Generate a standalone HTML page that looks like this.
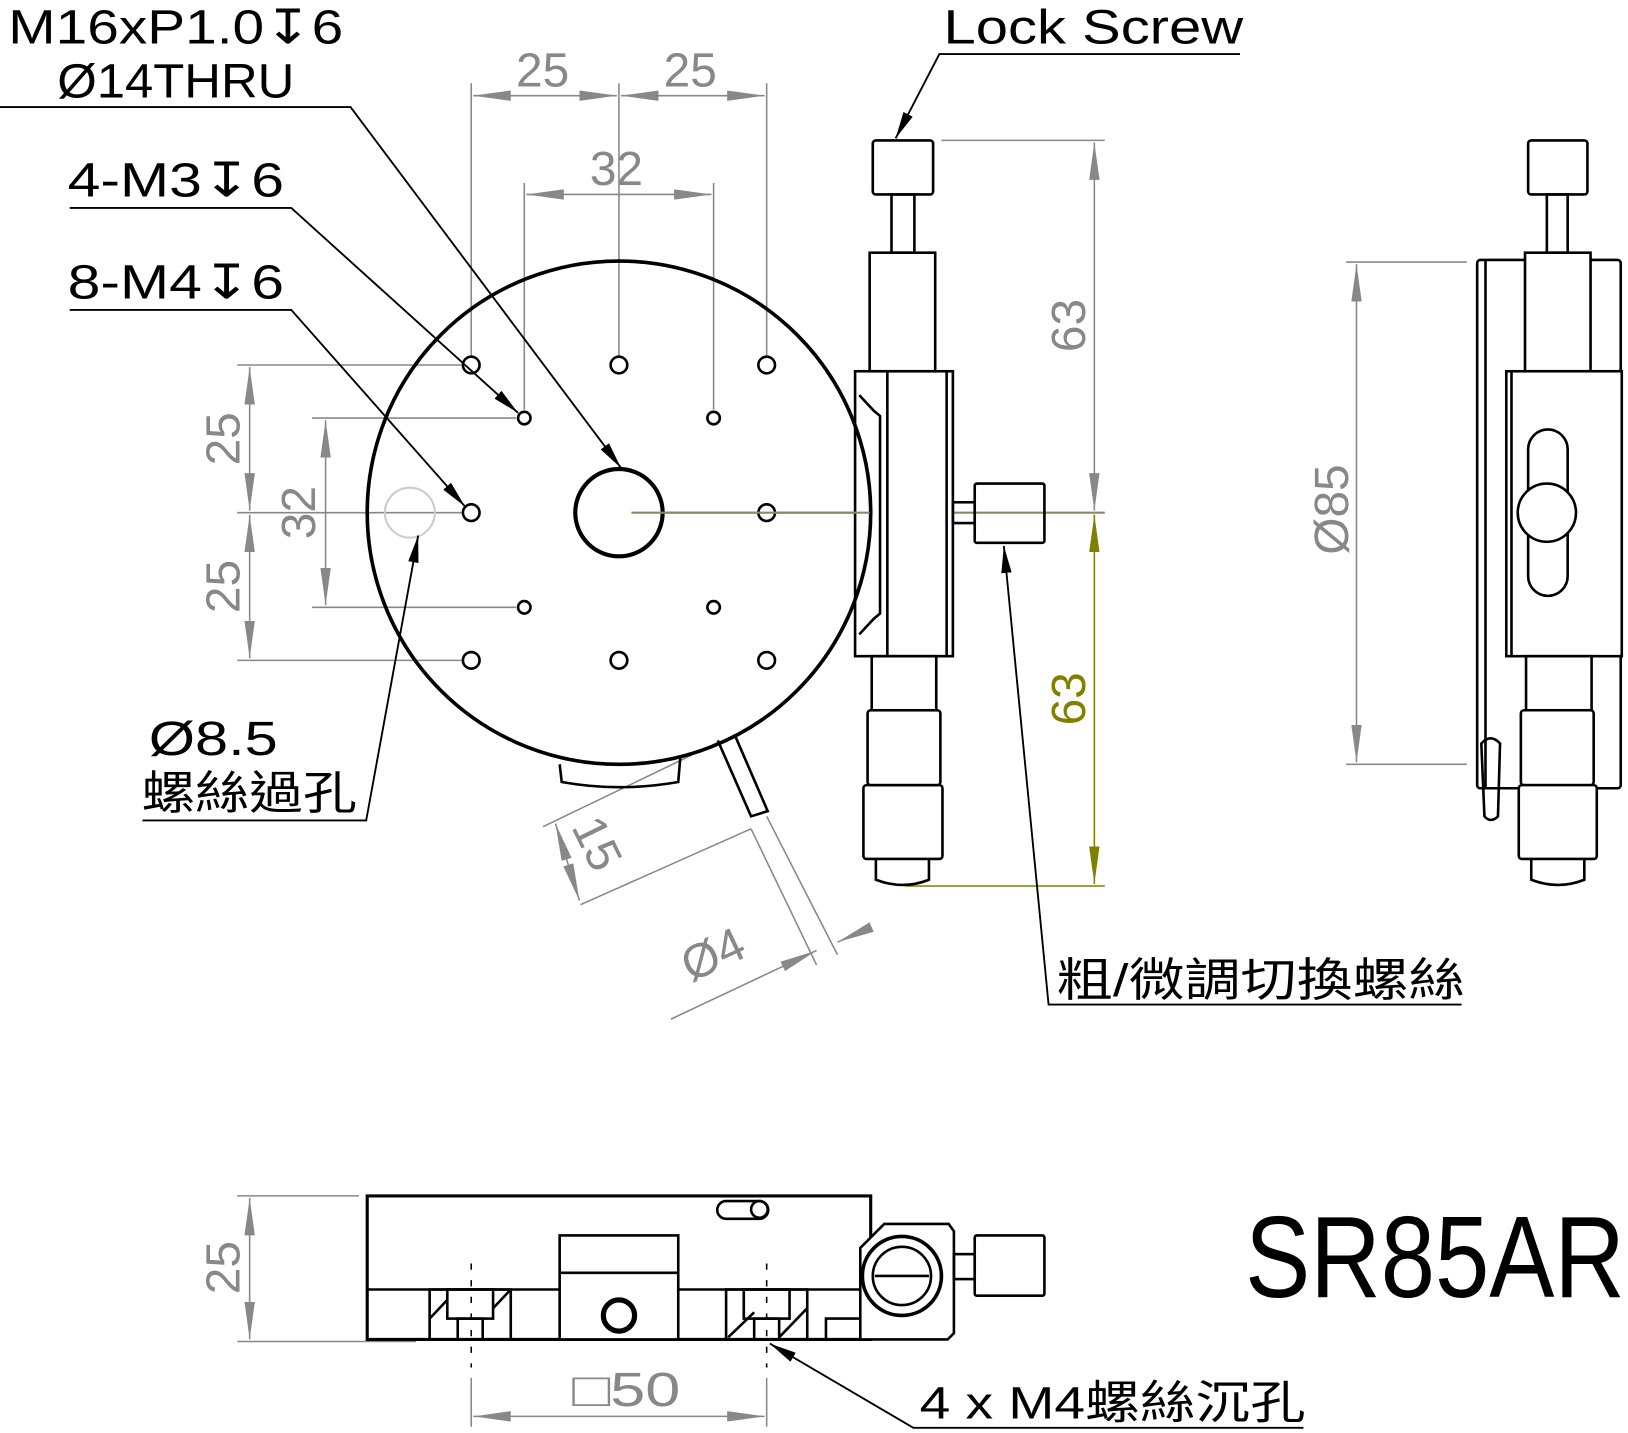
<!DOCTYPE html>
<html><head><meta charset="utf-8"><style>
html,body{margin:0;padding:0;background:#fff;}
svg{display:block;}
text{font-family:"Liberation Sans","Noto Sans CJK TC",sans-serif;}
</style></head><body>
<svg width="1628" height="1433" viewBox="0 0 1565 1378" preserveAspectRatio="none" xmlns="http://www.w3.org/2000/svg">
<defs>
<marker id="ab" viewBox="0 0 26 10" refX="26" refY="5" markerWidth="26" markerHeight="10" markerUnits="userSpaceOnUse" orient="auto"><path d="M0,0L26,5L0,10z" fill="#000"/></marker>
<marker id="ag" viewBox="0 0 36 10" refX="36" refY="5" markerWidth="36" markerHeight="10" markerUnits="userSpaceOnUse" orient="auto-start-reverse"><path d="M0,0L36,5L0,10z" fill="#888"/></marker>
<marker id="ao" viewBox="0 0 36 10" refX="36" refY="5" markerWidth="36" markerHeight="10" markerUnits="userSpaceOnUse" orient="auto-start-reverse"><path d="M0,0L36,5L0,10z" fill="#808000"/></marker>
</defs>

<g stroke="#888" stroke-width="1.5" fill="none">
<line x1="453" y1="80" x2="453" y2="342"/><line x1="595" y1="80" x2="595" y2="342"/><line x1="737" y1="80" x2="737" y2="342"/>
<line x1="504" y1="176" x2="504" y2="394"/><line x1="686" y1="176" x2="686" y2="394"/>
<line x1="455" y1="92" x2="593" y2="92" marker-start="url(#ag)" marker-end="url(#ag)"/>
<line x1="597" y1="92" x2="735" y2="92" marker-start="url(#ag)" marker-end="url(#ag)"/>
<line x1="506" y1="187" x2="684" y2="187" marker-start="url(#ag)" marker-end="url(#ag)"/>
<line x1="228" y1="351" x2="444" y2="351"/><line x1="228" y1="493" x2="444" y2="493"/><line x1="228" y1="635" x2="444" y2="635"/>
<line x1="300" y1="402" x2="496" y2="402"/><line x1="300" y1="584" x2="496" y2="584"/>
<line x1="240" y1="353" x2="240" y2="491" marker-start="url(#ag)" marker-end="url(#ag)"/>
<line x1="240" y1="495" x2="240" y2="633" marker-start="url(#ag)" marker-end="url(#ag)"/>
<line x1="313" y1="404" x2="313" y2="582" marker-start="url(#ag)" marker-end="url(#ag)"/>
<line x1="905" y1="135" x2="1062" y2="135"/>
<line x1="1052" y1="137" x2="1052" y2="491" marker-start="url(#ag)" marker-end="url(#ag)"/>
<line x1="1294" y1="252" x2="1410" y2="252"/><line x1="1294" y1="735" x2="1410" y2="735"/>
<line x1="1304" y1="254" x2="1304" y2="733" marker-start="url(#ag)" marker-end="url(#ag)"/>
<line x1="522" y1="795" x2="688" y2="715"/>
<line x1="558" y1="870" x2="722" y2="797"/>
<line x1="534" y1="792" x2="557" y2="866" marker-start="url(#ag)" marker-end="url(#ag)"/>
<line x1="722" y1="797" x2="785" y2="928"/>
<line x1="737" y1="785" x2="805" y2="918"/>
<line x1="645" y1="980" x2="785" y2="914" marker-end="url(#ag)"/>
<line x1="830" y1="895" x2="805" y2="906" marker-end="url(#ag)"/>
<line x1="228" y1="1150" x2="345" y2="1150"/><line x1="228" y1="1290" x2="400" y2="1290"/>
<line x1="240" y1="1152" x2="240" y2="1288" marker-start="url(#ag)" marker-end="url(#ag)"/>
<line x1="453" y1="1325" x2="453" y2="1372"/><line x1="737" y1="1325" x2="737" y2="1372"/>
<line x1="455" y1="1362" x2="735" y2="1362" marker-start="url(#ag)" marker-end="url(#ag)"/>
</g>
<circle cx="394" cy="493" r="24" fill="none" stroke="#ccc" stroke-width="2"/>
<g stroke="#808000" stroke-width="1.5" fill="none">
<line x1="870" y1="852" x2="1062" y2="852"/>
<line x1="1052" y1="495" x2="1052" y2="850" marker-start="url(#ao)" marker-end="url(#ao)"/>
</g>
<line x1="607" y1="493" x2="1062" y2="493" stroke="#8a8a6a" stroke-width="2"/>

<g fill="#888" font-size="46">
<text x="496" y="83">25</text><text x="638" y="83">25</text><text x="567" y="178">32</text>
<text transform="translate(230,422) rotate(-90)" text-anchor="middle">25</text>
<text transform="translate(230,564) rotate(-90)" text-anchor="middle">25</text>
<text transform="translate(303,493) rotate(-90)" text-anchor="middle">32</text>
<text transform="translate(1043,313) rotate(-90)" text-anchor="middle">63</text>
<text transform="translate(1296,490) rotate(-90)" text-anchor="middle">Ø85</text>
<text transform="translate(560,818) rotate(64)" text-anchor="middle">15</text>
<text transform="translate(692,932) rotate(-25)" text-anchor="middle">Ø4</text>
<text transform="translate(230,1219) rotate(-90)" text-anchor="middle">25</text>
<text x="550" y="1352" textLength="104" lengthAdjust="spacingAndGlyphs">□50</text>
</g>
<text transform="translate(1043,672) rotate(-90)" text-anchor="middle" fill="#808000" font-size="46">63</text>

<g stroke="#000" fill="none" stroke-width="2.5">
<path d="M538,735 L540,752 Q595,762 652,752 L654,728"/>
<path d="M690,712 L722,785 L738,780 L706,706"/>
<rect x="822" y="357" width="94" height="274" fill="#fff"/>
<line x1="853" y1="357" x2="853" y2="631"/><line x1="910" y1="357" x2="910" y2="631"/>
<path d="M826,380 L840,395 L846,400 L846,590 L840,595 L826,610"/>
<rect x="839" y="135" width="58" height="52" rx="3"/>
<rect x="857" y="187" width="22" height="56"/>
<rect x="836" y="243" width="63" height="114"/>
<rect x="838" y="631" width="62" height="52"/>
<rect x="834" y="683" width="70" height="72" rx="3"/>
<rect x="830" y="755" width="76" height="71" rx="3"/>
<path d="M842,826 L842,846 Q868,856 893,846 L893,826"/>
<rect x="916" y="483" width="21" height="20"/>
<rect x="937" y="465" width="67" height="57" rx="2"/>
</g>
<circle cx="595" cy="493" r="242" fill="none" stroke="#000" stroke-width="3.5"/>
<circle cx="595" cy="493" r="42" fill="#fff" stroke="#000" stroke-width="4"/>
<g fill="#fff" stroke="#000" stroke-width="2.5">
<circle cx="453" cy="351" r="8"/><circle cx="595" cy="351" r="8"/><circle cx="737" cy="351" r="8"/>
<circle cx="453" cy="493" r="8"/><circle cx="737" cy="493" r="8"/>
<circle cx="453" cy="635" r="8"/><circle cx="595" cy="635" r="8"/><circle cx="737" cy="635" r="8"/>
<circle cx="504" cy="402" r="6"/><circle cx="686" cy="402" r="6"/><circle cx="504" cy="584" r="6"/><circle cx="686" cy="584" r="6"/>
</g>
<line x1="607" y1="493" x2="836" y2="493" stroke="#8a8a6a" stroke-width="2"/>

<g stroke="#000" fill="none" stroke-width="2.5">
<rect x="1469" y="135" width="57" height="52" rx="3"/>
<rect x="1487" y="187" width="20" height="56"/>
<rect x="1420" y="250" width="138" height="508" rx="3"/>
<line x1="1428" y1="250" x2="1428" y2="758"/>
<rect x="1466" y="243" width="63" height="114" fill="#fff"/>
<rect x="1448" y="357" width="111" height="274" fill="#fff"/>
<line x1="1453" y1="357" x2="1453" y2="631"/>
<rect x="1469" y="413" width="38" height="160" rx="19"/>
<circle cx="1487" cy="493" r="28" fill="#fff"/>
<rect x="1467" y="631" width="63" height="52" fill="#fff"/>
<rect x="1462" y="683" width="70" height="72" rx="3" fill="#fff"/>
<rect x="1460" y="755" width="75" height="71" rx="3" fill="#fff"/>
<path d="M1472,826 L1472,846 Q1498,856 1523,846 L1523,826"/>
<path d="M1424,715 Q1433,705 1442,715 L1440,785 Q1433,792 1427,785 Z"/>
</g>

<g stroke="#000" fill="none" stroke-width="2.5">
<path d="M353,1150 L837,1150 L837,1288 L353,1288 Z" stroke-width="3"/>
<line x1="353" y1="1240" x2="827" y2="1240"/>
<rect x="538" y="1188" width="114" height="100" fill="#fff"/>
<line x1="538" y1="1224" x2="652" y2="1224"/>
<rect x="413" y="1240" width="78" height="48"/>
<rect x="430" y="1240" width="44" height="28"/><rect x="440" y="1268" width="24" height="20"/>
<line x1="413" y1="1268" x2="430" y2="1250"/><line x1="474" y1="1258" x2="491" y2="1240"/>
<rect x="698" y="1240" width="78" height="48"/>
<rect x="715" y="1240" width="44" height="28"/><rect x="725" y="1268" width="24" height="20"/>
<line x1="700" y1="1286" x2="725" y2="1262"/><line x1="749" y1="1286" x2="776" y2="1258"/>
<path d="M776,1288 L794,1288 L794,1268 L827,1268"/>
<path d="M827,1200 L850,1177 L912,1177 L917,1184 L917,1282 L911,1288 L827,1288 Z" fill="#fff"/>
<circle cx="867" cy="1227" r="38" stroke-width="3.5"/><circle cx="867" cy="1227" r="28"/>
<line x1="841" y1="1227" x2="893" y2="1227"/>
<rect x="917" y="1206" width="20" height="24"/>
<rect x="937" y="1188" width="67" height="58" rx="2"/>
<path d="M698,1155 L730,1155 A8,8 0 0 1 730,1172 L698,1172 A8,8 0 0 1 698,1155Z"/>
<circle cx="730" cy="1163" r="8"/>
</g>
<circle cx="595" cy="1265" r="15" fill="none" stroke="#000" stroke-width="5"/>
<g stroke="#000" stroke-width="1.5" stroke-dasharray="6,10"><line x1="453" y1="1215" x2="453" y2="1315"/><line x1="737" y1="1215" x2="737" y2="1315"/></g>

<g stroke="#000" stroke-width="1.8" fill="none">
<polyline points="0,103 337,103 597,450" marker-end="url(#ab)"/>
<polyline points="67,200 280,200 498,397" marker-end="url(#ab)"/>
<polyline points="67,298 280,298 447,487" marker-end="url(#ab)"/>
<polyline points="137,789 352,789 402,515" marker-end="url(#ab)"/>
<polyline points="1192,52 903,52 861,133" marker-end="url(#ab)"/>
<polyline points="1405,966 1008,966 965,525" marker-end="url(#ab)"/>
<polyline points="1253,1373 878,1373 740,1292" marker-end="url(#ab)"/>
</g>

<g fill="#000" font-size="46">
<text x="8" y="42" textLength="322" lengthAdjust="spacingAndGlyphs">M16xP1.0<tspan font-family="DejaVu Sans">↧</tspan>6</text>
<text x="55" y="94" textLength="228" lengthAdjust="spacingAndGlyphs">Ø14THRU</text>
<text x="65" y="189" textLength="208" lengthAdjust="spacingAndGlyphs">4-M3<tspan font-family="DejaVu Sans">↧</tspan>6</text>
<text x="65" y="287" textLength="208" lengthAdjust="spacingAndGlyphs">8-M4<tspan font-family="DejaVu Sans">↧</tspan>6</text>
<text x="143" y="726" textLength="124" lengthAdjust="spacingAndGlyphs">Ø8.5</text>
<text x="136" y="778" font-size="44" textLength="207" lengthAdjust="spacingAndGlyphs">螺絲過孔</text>
<text x="907" y="42" textLength="288" lengthAdjust="spacingAndGlyphs">Lock Screw</text>
<text x="1016" y="958" font-size="44" textLength="392" lengthAdjust="spacingAndGlyphs">粗/微調切換螺絲</text>
<text x="884" y="1364" font-size="44" textLength="371" lengthAdjust="spacingAndGlyphs">4 x M4螺絲沉孔</text>
<text x="1197" y="1247" font-size="112" textLength="365" lengthAdjust="spacingAndGlyphs">SR85AR</text>
</g>
</svg>
</body></html>
